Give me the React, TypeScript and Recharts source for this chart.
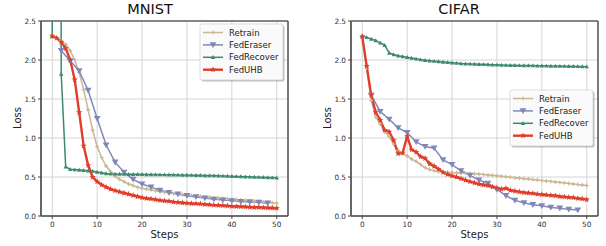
import React from 'react';
import { LineChart, Line, XAxis, YAxis, CartesianGrid } from 'recharts';

// x values (training steps)
const steps = [
  0, 1, 2, 3, 4, 5, 6, 7, 8, 9, 10, 11, 12, 13, 14, 15, 16, 17, 18, 19, 20, 21, 22, 23, 24, 25,
  26, 27, 28, 29, 30, 31, 32, 33, 34, 35, 36, 37, 38, 39, 40, 41, 42, 43, 44, 45, 46, 47, 48, 49, 50,
];
// FedEraser only logs every other step
const eraserSteps = [2, 4, 6, 8, 10, 12, 14, 16, 18, 20, 22, 24, 26, 28, 30, 32, 34, 36, 38, 40, 42, 44, 46, 48];

const xTicks = [0, 10, 20, 30, 40, 50];
const yTicks = [0, 0.5, 1.0, 1.5, 2.0, 2.5];

// MNIST
const mnistRetrain = [
  2.3, 2.28, 2.25, 2.2, 2.12, 2.0, 1.84, 1.62, 1.36, 1.1, 0.89, 0.75, 0.64, 0.57, 0.51, 0.47, 0.44,
  0.41, 0.39, 0.37, 0.355, 0.345, 0.335, 0.325, 0.315, 0.305, 0.298, 0.29, 0.283, 0.276, 0.27,
  0.263, 0.257, 0.251, 0.245, 0.24, 0.235, 0.23, 0.225, 0.22, 0.215, 0.21, 0.205, 0.2, 0.195,
  0.19, 0.185, 0.18, 0.175, 0.17, 0.165,
];
const mnistEraser = [
  2.12, 1.99, 1.86, 1.61, 1.25, 0.91, 0.69, 0.56, 0.47, 0.41, 0.37, 0.33, 0.3, 0.28, 0.26, 0.245,
  0.23, 0.215, 0.205, 0.195, 0.185, 0.18, 0.175, 0.165,
];
const mnistRecover = [
  2.3, 40, 1.82, 0.63, 0.6, 0.595, 0.59, 0.585, 0.58, 0.575, 0.565, 0.555, 0.545, 0.54, 0.54,
  0.538, 0.537, 0.536, 0.535, 0.535, 0.534, 0.533, 0.532, 0.531, 0.53, 0.53, 0.529, 0.528, 0.527,
  0.526, 0.525, 0.524, 0.523, 0.522, 0.52, 0.519, 0.518, 0.516, 0.514, 0.512, 0.51, 0.508, 0.506,
  0.504, 0.502, 0.5, 0.498, 0.496, 0.494, 0.492, 0.49,
];
const mnistUHB = [
  2.31, 2.28, 2.23, 2.15, 2.0, 1.75, 1.33, 0.9, 0.65, 0.5, 0.44, 0.4, 0.37, 0.345, 0.325, 0.31,
  0.295, 0.28, 0.265, 0.25, 0.235, 0.225, 0.22, 0.21, 0.2, 0.195, 0.19, 0.18, 0.175, 0.17, 0.165,
  0.16, 0.158, 0.155, 0.15, 0.145, 0.14, 0.137, 0.133, 0.13, 0.125, 0.122, 0.12, 0.118, 0.115,
  0.112, 0.11, 0.108, 0.105, 0.103, 0.1,
];

// CIFAR
const cifarRetrain = [
  2.3, 1.9, 1.48, 1.27, 1.18, 1.08, 1.02, 0.92, 0.84, 0.8, 0.77, 0.73, 0.7, 0.66, 0.62, 0.595,
  0.58, 0.57, 0.565, 0.56, 0.557, 0.554, 0.551, 0.548, 0.545, 0.541, 0.537, 0.532, 0.527, 0.521,
  0.515, 0.509, 0.503, 0.497, 0.491, 0.485, 0.479, 0.473, 0.467, 0.461, 0.455, 0.449, 0.443,
  0.437, 0.431, 0.425, 0.418, 0.411, 0.404, 0.397, 0.39,
];
const cifarEraser = [
  1.55, 1.34, 1.24, 1.13, 1.07, 0.95, 0.89, 0.87, 0.72, 0.66, 0.58, 0.52, 0.46, 0.42, 0.34, 0.26,
  0.2, 0.17, 0.145, 0.13, 0.11, 0.1, 0.085, 0.077,
];
const cifarRecover = [
  2.31, 2.29, 2.27, 2.25, 2.22, 2.19, 2.09, 2.07, 2.055, 2.045, 2.035, 2.025, 2.015, 2.005, 1.997,
  1.99, 1.985, 1.98, 1.975, 1.97, 1.965, 1.96, 1.955, 1.952, 1.95, 1.948, 1.946, 1.944, 1.942,
  1.94, 1.938, 1.936, 1.934, 1.933, 1.932, 1.931, 1.93, 1.929, 1.928, 1.927, 1.926, 1.925, 1.924,
  1.923, 1.922, 1.921, 1.92, 1.919, 1.918, 1.917, 1.915,
];
const cifarUHB = [
  2.3, 1.92, 1.55, 1.33, 1.23, 1.1, 1.08, 0.97, 0.8, 0.81, 1.02, 0.85, 0.82, 0.76, 0.74, 0.67,
  0.64, 0.6, 0.56, 0.535, 0.515, 0.5, 0.48, 0.46, 0.44, 0.425, 0.41, 0.4, 0.39, 0.375, 0.36, 0.345,
  0.355, 0.33, 0.32, 0.31, 0.3, 0.295, 0.29, 0.28, 0.275, 0.27, 0.265, 0.26, 0.25, 0.245, 0.24,
  0.235, 0.225, 0.22, 0.21,
];

const FONT = 'DejaVu Sans, sans-serif';

const seriesStyle = [
  { name: 'Retrain', color: '#c9b895', width: 1.5, marker: 'plus' },
  { name: 'FedEraser', color: '#8088ba', width: 1.5, marker: 'tridown' },
  { name: 'FedRecover', color: '#3d8a6b', width: 1.5, marker: 'triup' },
  { name: 'FedUHB', color: '#e23d2a', width: 2.4, marker: 'star' },
];

const toRows = (xs: number[], ys: number[]) => xs.map((s, i) => ({ step: s, loss: ys[i] }));

const starPath = (cx: number, cy: number, R: number) => {
  const pts: string[] = [];
  for (let i = 0; i < 10; i++) {
    const r = i % 2 === 0 ? R : R * 0.42;
    const a = -Math.PI / 2 + (i * Math.PI) / 5;
    pts.push(`${cx + r * Math.cos(a)},${cy + r * Math.sin(a)}`);
  }
  return `M${pts.join('L')}Z`;
};

const Marker = ({ cx, cy, shape, color }: any) => {
  if (cx == null || cy == null || isNaN(cx) || isNaN(cy)) return null;
  if (shape === 'plus')
    return (
      <path d={`M${cx - 2},${cy}H${cx + 2}M${cx},${cy - 2}V${cy + 2}`} stroke={color} strokeWidth={1.2} />
    );
  if (shape === 'tridown')
    return <path d={`M${cx - 3.4},${cy - 2.6}H${cx + 3.4}L${cx},${cy + 3.2}Z`} fill={color} />;
  if (shape === 'triup')
    return <path d={`M${cx - 2.2},${cy + 1.7}H${cx + 2.2}L${cx},${cy - 2.2}Z`} fill={color} />;
  return <path d={starPath(cx, cy, 3.3)} fill={color} />;
};

const dotFor = (shape: string, color: string) => (props: any) => (
  <g key={`d-${props.index}`}>
    <Marker cx={props.cx} cy={props.cy} shape={shape} color={color} />
  </g>
);

const LegendBox = ({ x, y }: { x: number; y: number }) => (
  <g>
    <rect x={x + 1.5} y={y + 1.5} width={83} height={56} rx={2} fill="#000" opacity={0.25} />
    <rect x={x} y={y} width={83} height={56} rx={2} fill="#fff" fillOpacity={0.92} stroke="#d0d0d0" strokeWidth={0.8} />
    {seriesStyle.map((s, i) => {
      const cy = y + 8.5 + i * 12.4;
      return (
        <g key={s.name}>
          <line x1={x + 3} x2={x + 23} y1={cy} y2={cy} stroke={s.color} strokeWidth={s.width} />
          <Marker cx={x + 13} cy={cy} shape={s.marker} color={s.color} />
          <text x={x + 29} y={cy + 3} fontSize={8.5} fontFamily={FONT} fill="#222">
            {s.name}
          </text>
        </g>
      );
    })}
  </g>
);

type PanelProps = {
  title: string;
  width: number;
  axisWidth: number;
  right: number;
  titleX: number;
  labelX: number;
  legend: { x: number; y: number };
  data: { xs: number[]; ys: number[] }[];
};

const Panel = ({ title, width, axisWidth, right, titleX, labelX, legend, data }: PanelProps) => {
  const top = 21;
  const plotRight = width - right;
  const midX = (axisWidth + plotRight) / 2;
  return (
    <LineChart width={width} height={246} margin={{ top, right, bottom: 0, left: 0 }}>
      <CartesianGrid stroke="#d4d4d4" strokeWidth={1} />
      <XAxis
        type="number"
        dataKey="step"
        domain={[-2.5, 52.5]}
        ticks={xTicks}
        height={30}
        allowDataOverflow
        stroke="#444"
        tick={{ fontSize: 7.3, fill: '#333', fontFamily: FONT }}
        tickSize={3}
        tickMargin={3}
        axisLine={{ stroke: '#444', strokeWidth: 1.5 }}
      />
      <YAxis
        type="number"
        domain={[0, 2.5]}
        ticks={yTicks}
        width={axisWidth}
        allowDataOverflow
        tickFormatter={(v: number) => v.toFixed(1)}
        tick={{ fontSize: 7.3, fill: '#333', fontFamily: FONT }}
        tickSize={3}
        tickMargin={2}
        stroke="#444"
        axisLine={{ stroke: '#666', strokeWidth: 2 }}
      />
      {data.map((d, i) => {
        const s = seriesStyle[i];
        return (
          <Line
            key={s.name}
            data={toRows(d.xs, d.ys)}
            dataKey="loss"
            name={s.name}
            stroke={s.color}
            strokeWidth={s.width}
            dot={dotFor(s.marker, s.color)}
            activeDot={false}
            isAnimationActive={false}
            type="linear"
          />
        );
      })}
      <line x1={axisWidth} x2={plotRight} y1={top} y2={top} stroke="#222" strokeWidth={1} />
      <line x1={plotRight} x2={plotRight} y1={top} y2={216} stroke="#555" strokeWidth={1.5} />
      <LegendBox x={legend.x} y={legend.y} />
      <text x={titleX} y={14} textAnchor="middle" fontSize={14.5} fontFamily={FONT} fill="#111">
        {title}
      </text>
      <text x={midX} y={238} textAnchor="middle" fontSize={10} fontFamily={FONT} fill="#222">
        Steps
      </text>
      <text
        x={labelX}
        y={118}
        textAnchor="middle"
        fontSize={10}
        fontFamily={FONT}
        fill="#222"
        transform={`rotate(-90 ${labelX} 118)`}
      >
        Loss
      </text>
    </LineChart>
  );
};

export default function App() {
  return (
    <div style={{ position: 'absolute', left: 0, top: 0, width: 606, height: 246, background: '#fff' }}>
      <div style={{ position: 'absolute', left: 0, top: 0 }}>
        <Panel
          title="MNIST"
          width={300}
          axisWidth={41}
          right={12}
          titleX={150}
          labelX={20.5}
          legend={{ x: 200, y: 24 }}
          data={[
            { xs: steps, ys: mnistRetrain },
            { xs: eraserSteps, ys: mnistEraser },
            { xs: steps, ys: mnistRecover },
            { xs: steps, ys: mnistUHB },
          ]}
        />
      </div>
      <div style={{ position: 'absolute', left: 300, top: 0 }}>
        <Panel
          title="CIFAR"
          width={306}
          axisWidth={51}
          right={8}
          titleX={159}
          labelX={30.5}
          legend={{ x: 210, y: 90 }}
          data={[
            { xs: steps, ys: cifarRetrain },
            { xs: eraserSteps, ys: cifarEraser },
            { xs: steps, ys: cifarRecover },
            { xs: steps, ys: cifarUHB },
          ]}
        />
      </div>
    </div>
  );
}
